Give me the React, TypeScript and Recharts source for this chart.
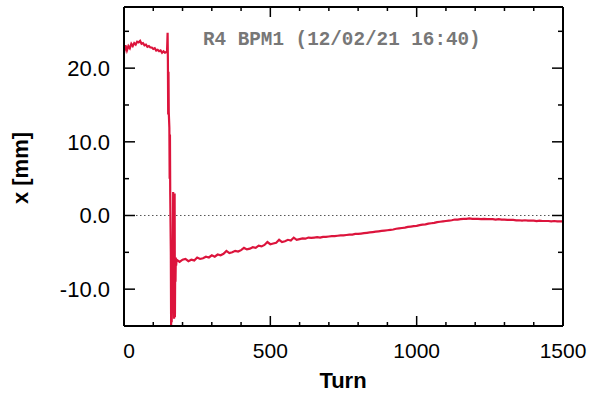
import { LineChart, Line, XAxis, YAxis, ReferenceLine } from "recharts";

// turns 0..145, every 5 turns, before the kick
const preKick = [
  22.0, 23.1, 22.4, 23.0, 22.7, 23.3, 23.0, 23.4, 23.2, 23.6, 23.5, 23.7, 23.3,
  23.4, 23.1, 23.2, 22.9, 23.0, 22.8, 22.8, 22.6, 22.7, 22.4, 22.5, 22.3, 22.4,
  22.1, 22.3, 22.1, 22.2,
];

// kick region, irregular turns
const kickTurns = [
  147, 149, 150, 151, 152, 153, 155, 156, 157, 158, 160, 161, 162, 163, 165,
  166, 168, 169, 170, 171, 172, 173, 174, 175, 176, 177, 178,
];
const kickValues = [
  22.2, 24.8, 21.0, 13.7, 19.5, 14.0, 11.9, 5.0, 11.0, 2.8, -5.0, -14.9, -10.0,
  -14.5, -6.0, -13.0, 3.2, -2.0, -8.0, -14.0, -9.0, 3.0, -13.8, -6.0, -9.0,
  -5.7, -6.8,
];

// turns 180..1500, every 10 turns, after the kick
const postKick = [
  -6.0, -6.3, -6.0, -5.9, -6.2, -6.0, -6.1, -5.7, -5.9, -5.8,
  -5.6, -5.7, -5.4, -5.6, -5.3, -5.4, -5.2, -4.8, -5.1, -5.0,
  -4.8, -4.9, -4.7, -4.4, -4.6, -4.5, -4.3, -4.4, -4.1, -4.2,
  -4.0, -3.6, -3.9, -3.8, -3.7, -3.3, -3.6, -3.5, -3.3, -3.4,
  -3.0, -3.3, -3.2, -3.1, -3.15, -3.0, -3.05, -3.0, -2.95, -3.0,
  -2.9, -2.9, -2.85, -2.8, -2.8, -2.75, -2.7, -2.7, -2.65, -2.6,
  -2.6, -2.5, -2.5, -2.45, -2.4, -2.35, -2.3, -2.25, -2.2, -2.15,
  -2.1, -2.05, -2.0, -1.95, -1.9, -1.8, -1.75, -1.7, -1.65, -1.55,
  -1.5, -1.45, -1.4, -1.3, -1.25, -1.2, -1.1, -1.05, -1.0, -0.9,
  -0.85, -0.8, -0.75, -0.7, -0.65, -0.55, -0.55, -0.5, -0.45, -0.45,
  -0.4, -0.45, -0.45, -0.45, -0.5, -0.45, -0.5, -0.5, -0.5, -0.55,
  -0.5, -0.55, -0.55, -0.6, -0.6, -0.6, -0.65, -0.65, -0.7, -0.65,
  -0.7, -0.7, -0.7, -0.75, -0.7, -0.75, -0.75, -0.75, -0.8, -0.75,
  -0.8, -0.8, -0.8,
];

const xTicks = [
  0, 100, 200, 300, 400, 500, 600, 700, 800, 900, 1000, 1100, 1200, 1300, 1400,
  1500,
];
const yTicks = [-10, -5, 0, 5, 10, 15, 20, 25];

const data = [
  ...preKick.map((v, i) => ({ turn: i * 5, x: v })),
  ...kickTurns.map((t, i) => ({ turn: t, x: kickValues[i] })),
  ...postKick.map((v, i) => ({ turn: 180 + i * 10, x: v })),
];

const font = "'Liberation Sans', Arial, sans-serif";

// eslint-disable-next-line @typescript-eslint/no-explicit-any
const BottomTick = ({ x, y, payload }: any) => {
  const major = payload.value % 500 === 0;
  return (
    <g>
      <line x1={x} x2={x} y1={y} y2={y - (major ? 10 : 4)} stroke="#000" strokeWidth={1.5} />
      {major && (
        <text
          x={payload.value === 0 ? x + 5 : x}
          y={y + 32}
          textAnchor="middle"
          fontSize={21}
          fontFamily={font}
          fill="#000"
        >
          {payload.value}
        </text>
      )}
    </g>
  );
};

// eslint-disable-next-line @typescript-eslint/no-explicit-any
const TopTick = ({ x, y, payload }: any) => {
  const major = payload.value % 500 === 0;
  return <line x1={x} x2={x} y1={y} y2={y + (major ? 10 : 4)} stroke="#000" strokeWidth={1.5} />;
};

// eslint-disable-next-line @typescript-eslint/no-explicit-any
const LeftTick = ({ x, y, payload }: any) => {
  const major = payload.value % 10 === 0;
  return (
    <g>
      <line x1={x} x2={x + (major ? 11 : 5)} y1={y} y2={y} stroke="#000" strokeWidth={1.5} />
      {major && (
        <text x={x - 14} y={y + 8} textAnchor="end" fontSize={22} fontFamily={font} fill="#000">
          {payload.value.toFixed(1)}
        </text>
      )}
    </g>
  );
};

// eslint-disable-next-line @typescript-eslint/no-explicit-any
const RightTick = ({ x, y, payload }: any) => {
  const major = payload.value % 10 === 0;
  return <line x1={x} x2={x - (major ? 11 : 5)} y1={y} y2={y} stroke="#000" strokeWidth={1.5} />;
};

export default function App() {
  return (
    <div style={{ position: "absolute", left: 0, top: 0, width: 590, height: 393, background: "#fff" }}>
      <LineChart width={590} height={393} data={data} margin={{ top: 5, right: 25, bottom: 0, left: 0 }}>
        <XAxis
          dataKey="turn"
          type="number"
          domain={[0, 1500]}
          ticks={xTicks}
          interval={0}
          height={67}
          tickSize={0}
          tickMargin={0}
          tickLine={false}
          tick={<BottomTick />}
          axisLine={{ stroke: "#000", strokeWidth: 2 }}
          allowDataOverflow
        />
        <XAxis
          xAxisId="top"
          orientation="top"
          dataKey="turn"
          type="number"
          domain={[0, 1500]}
          ticks={xTicks}
          interval={0}
          height={2}
          tickSize={0}
          tickMargin={0}
          tickLine={false}
          tick={<TopTick />}
          axisLine={{ stroke: "#000", strokeWidth: 2 }}
          allowDataOverflow
        />
        <YAxis
          type="number"
          domain={[-15, 28.3]}
          ticks={yTicks}
          interval={0}
          width={124}
          tickSize={0}
          tickMargin={0}
          tickLine={false}
          tick={<LeftTick />}
          axisLine={{ stroke: "#000", strokeWidth: 2 }}
          allowDataOverflow
        />
        <YAxis
          yAxisId="right"
          orientation="right"
          type="number"
          domain={[-15, 28.3]}
          ticks={yTicks}
          interval={0}
          width={2}
          tickSize={0}
          tickMargin={0}
          tickLine={false}
          tick={<RightTick />}
          axisLine={{ stroke: "#000", strokeWidth: 2 }}
          allowDataOverflow
        />
        <ReferenceLine y={0} stroke="#555" strokeDasharray="1.5 2.5" strokeWidth={1} />
        <Line
          xAxisId="top"
          yAxisId="right"
          type="linear"
          dataKey="x"
          stroke="none"
          dot={false}
          activeDot={false}
          isAnimationActive={false}
        />
        <Line
          type="linear"
          dataKey="x"
          stroke="#DC143C"
          strokeWidth={2.2}
          strokeLinejoin="miter"
          dot={false}
          isAnimationActive={false}
        />
      </LineChart>
      <div
        style={{
          position: "absolute",
          left: 203,
          top: 31,
          fontFamily: "'Liberation Mono', 'DejaVu Sans Mono', monospace",
          fontWeight: "bold",
          fontSize: 19.3,
          color: "#777",
          whiteSpace: "pre",
          lineHeight: "19px",
        }}
      >
        R4 BPM1 (12/02/21 16:40)
      </div>
      <div
        style={{
          position: "absolute",
          left: 343,
          top: 381,
          transform: "translate(-50%, -50%)",
          fontFamily: font,
          fontWeight: "bold",
          fontSize: 22,
          lineHeight: "22px",
        }}
      >
        Turn
      </div>
      <div
        style={{
          position: "absolute",
          left: 21,
          top: 168,
          transform: "translate(-50%, -50%) rotate(-90deg)",
          fontFamily: font,
          fontWeight: "bold",
          fontSize: 22,
          lineHeight: "22px",
          whiteSpace: "pre",
        }}
      >
        x [mm]
      </div>
    </div>
  );
}
